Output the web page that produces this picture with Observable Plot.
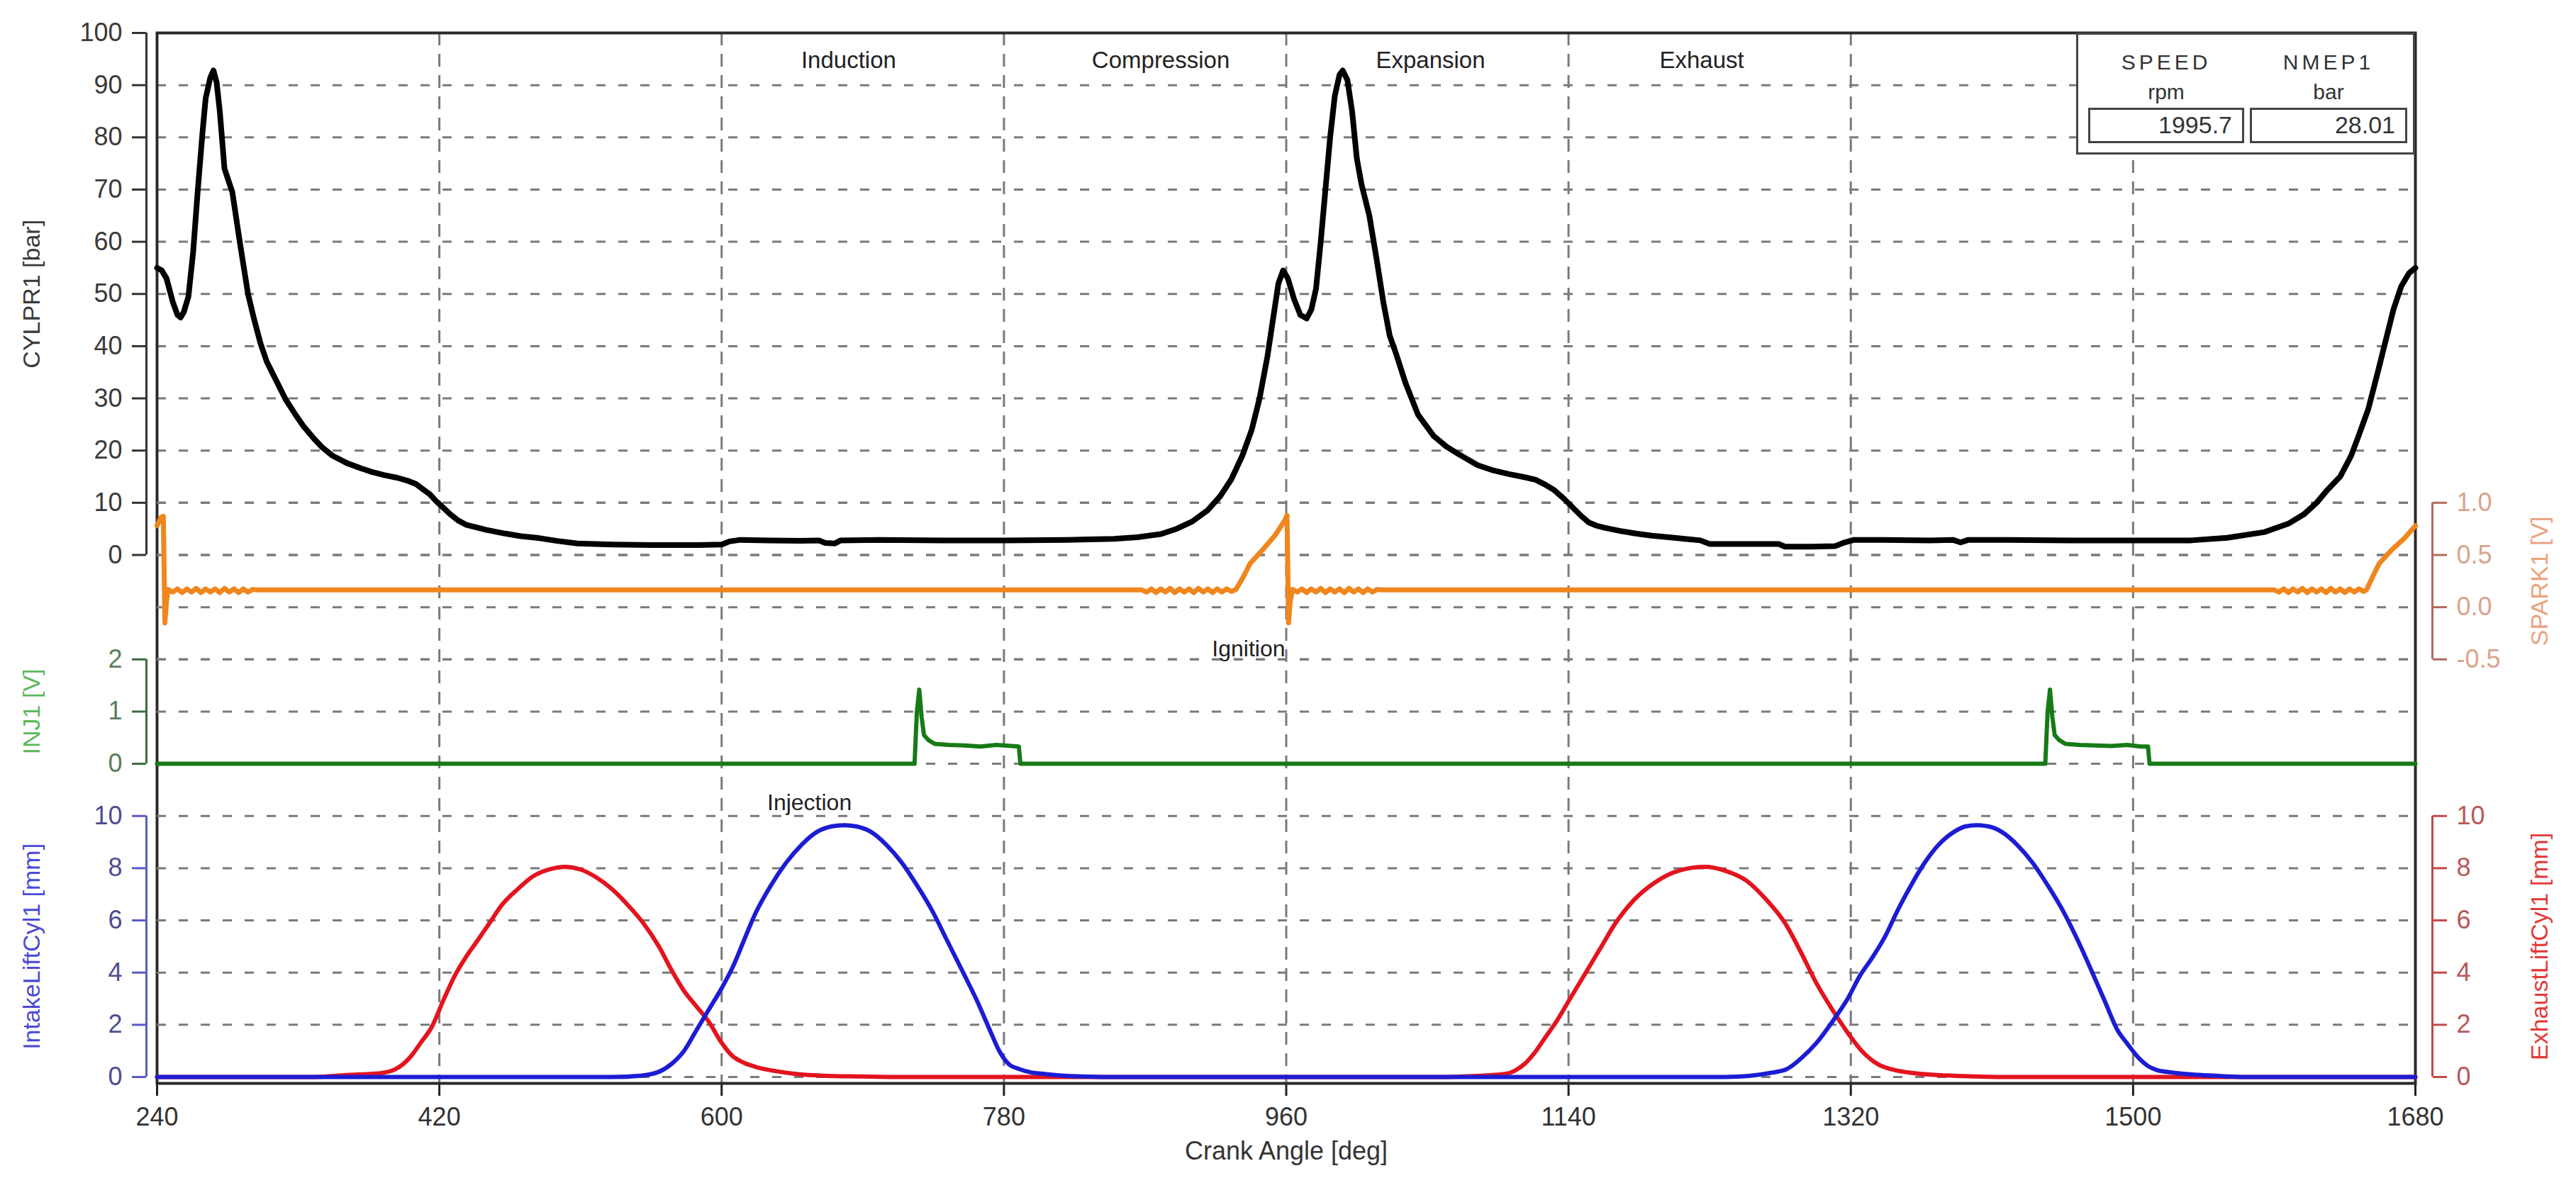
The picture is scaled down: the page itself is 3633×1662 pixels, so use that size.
<!DOCTYPE html>
<html>
<head>
<meta charset="utf-8">
<script src="https://cdn.jsdelivr.net/npm/d3@7"></script>
<script src="https://cdn.jsdelivr.net/npm/@observablehq/plot@0.6"></script>
<style>
  html, body { margin: 0; padding: 0; background: #fff; }
  #chart { position: relative; width: 3633px; height: 1662px; overflow: hidden; background: #fff;
           font-family: "Liberation Sans", Arial, sans-serif; }
  #chart svg { position: absolute; left: 0; top: 0; }
  .info { position: absolute; box-sizing: border-box; background: #fff; border: 3px solid #444; color: #333; }
  .info .lab { position: absolute; text-align: center; font-size: 30px; line-height: 30px; }
  .info .name { letter-spacing: 5px; }
  .info .val { position: absolute; box-sizing: border-box; border: 3px solid #444; text-align: right;
               font-size: 34px; line-height: 42px; padding-right: 14px; }
</style>
</head>
<body>
<div id="chart"></div>
<script>
// ---------------- data ----------------
const crankTicks = [240, 420, 600, 780, 960, 1140, 1320, 1500, 1680];
const pressureTicks = [0, 10, 20, 30, 40, 50, 60, 70, 80, 90, 100];
const sparkTicks = [-0.5, 0.0, 0.5, 1.0];
const injTicks = [0, 1, 2];
const liftTicks = [0, 2, 4, 6, 8, 10];

const phaseNames = ["Induction", "Compression", "Expansion", "Exhaust"];
const phaseDeg = [681, 880, 1052, 1225];

const noteNames = ["Ignition", "Injection"];
const noteDeg = [936, 656];
const noteValue = [2.2, 10.5]; // Ignition on INJ1 scale [V], Injection on lift scale [mm]

const infoNames = ["SPEED", "NMEP1"];
const infoUnits = ["rpm", "bar"];
const infoValues = ["1995.7", "28.01"];

// CYLPR1 [bar]
const pressureDeg = [240,243,246,250,253,255,257,260,263,266,269,271,274,276,278,280,283,288,293,298,302,306,310,315,322,328,333,340,345,352,361,370,377,385,393,400,405,410,414,418,422,427,432,437,442,450,462,472,482,495,508,530,556,585,600,605,612,630,650,662,666,672,676,700,740,780,820,850,865,880,890,900,910,918,925,932,938,943,948,952,955,958,961,965,969,973,976,979,982,985,988,991,994,996,999,1002,1005,1008,1013,1018,1022,1026,1030,1036,1044,1054,1062,1070,1082,1092,1102,1112,1119,1125,1131,1137,1143,1148,1153,1158,1163,1173,1183,1193,1204,1214,1224,1230,1255,1274,1278,1295,1310,1316,1322,1340,1370,1385,1390,1395,1420,1460,1500,1537,1560,1584,1599,1609,1617,1624,1632,1639,1644,1650,1656,1661,1666,1671,1676,1680];
const pressureBar = [55.0,54.5,53.0,48.5,46.0,45.5,46.5,49.5,58,70,81,87.5,91.5,92.8,90.5,85,74,69.5,59.5,50,45,40.5,37,34,29.8,27,24.8,22.3,20.7,19,17.6,16.6,15.9,15.3,14.8,14.2,13.6,12.5,11.6,10.3,9.2,7.8,6.6,5.8,5.4,4.8,4.1,3.6,3.3,2.7,2.2,2.0,1.9,1.9,2.0,2.6,2.9,2.8,2.7,2.8,2.3,2.2,2.8,2.9,2.8,2.8,2.9,3.1,3.4,4.0,5.0,6.4,8.6,11.3,14.5,19,24,30,38,46,52,54.5,53,49,46,45.3,47,51,60,70,80,88,92,92.8,91,85,76,71,65,56,48.3,42,38.6,33,26.9,22.8,20.8,19.3,17.2,16.2,15.5,14.9,14.4,13.5,12.4,10.8,9.0,7.5,6.2,5.6,5.2,4.6,4.1,3.7,3.4,3.1,2.8,2.1,2.1,2.1,1.6,1.6,1.7,2.4,2.9,2.9,2.8,2.9,2.4,2.9,2.9,2.8,2.8,2.8,3.3,4.4,6.0,7.8,10.0,12.5,15.0,19.0,23.0,28,35,41,47,51.5,54,55];

// SPARK1 [V]
const sparkDeg = [240,242.5,244,245,246,247,250,253,256,259,262,265,268,271,274,277,280,283,286,289,292,295,298,301,304,
  868,871,874,877,880,883,886,889,892,895,898,901,904,907,910,913,916,919,922,925,928,933,937,945,953,959,960.5,961.5,962.5,964,
  967,970,973,976,979,982,985,988,991,994,997,1000,1003,1006,1009,1012,1015,1018,1021,
  1590,1593,1596,1599,1602,1605,1608,1611,1614,1617,1620,1623,1626,1629,1632,1635,1638,1641,1644,1647,1649,1653,1657,1665,1673,1680];
const sparkV = [0.78,0.86,0.87,-0.15,0.05,0.17,0.145,0.175,0.14,0.175,0.145,0.18,0.14,0.175,0.145,0.175,0.14,0.18,0.145,0.175,0.14,0.175,0.145,0.17,0.165,
  0.165,0.145,0.175,0.14,0.175,0.145,0.18,0.14,0.175,0.145,0.175,0.14,0.18,0.145,0.175,0.14,0.175,0.145,0.175,0.15,0.17,0.30,0.42,0.55,0.69,0.83,0.88,-0.15,0.05,0.17,
  0.145,0.175,0.14,0.175,0.145,0.18,0.14,0.175,0.145,0.175,0.14,0.18,0.145,0.175,0.14,0.175,0.145,0.17,0.165,
  0.165,0.145,0.175,0.14,0.175,0.145,0.18,0.14,0.175,0.145,0.175,0.14,0.18,0.145,0.175,0.14,0.175,0.145,0.175,0.15,0.17,0.30,0.42,0.55,0.66,0.78];

// INJ1 [V]
const injDeg = [240,723,724.5,726,727.5,729,732,736,745,755,765,775,785,789.5,790.5,1444,1445.5,1447,1448.5,1450,1453,1457,1466,1476,1486,1496,1505,1509.5,1510.5,1680];
const injV = [0,0,1.0,1.42,0.9,0.55,0.45,0.38,0.36,0.35,0.33,0.36,0.34,0.33,0,0,1.0,1.42,0.9,0.55,0.45,0.38,0.36,0.35,0.34,0.36,0.33,0.33,0,0];

// IntakeLiftCyl1 [mm]
const intakeDeg = [240,530,548,560,568,576,584,592,600,607,614,621,631,641,651,661,670,678,686,695,705,715,725,734,744,754,763,771,777,783,790,797,805,815,830,845,
  1240,1255,1268,1279,1288,1298,1308,1318,1326,1334,1342,1350,1358,1367,1376,1386,1393,1400,1408,1416,1426,1436,1446,1455,1465,1474,1482,1490,1496,1504,1510,1515,1525,1542,1562,1570,1680];
const intakeMm = [0,0,0.05,0.2,0.5,1.0,1.8,2.6,3.4,4.2,5.2,6.2,7.3,8.2,8.9,9.4,9.6,9.65,9.6,9.4,8.9,8.2,7.3,6.4,5.2,4.0,2.9,1.8,1.0,0.5,0.3,0.18,0.12,0.06,0.02,0,
  0,0.04,0.15,0.3,0.7,1.3,2.1,3.0,3.9,4.6,5.4,6.4,7.3,8.2,8.9,9.4,9.6,9.65,9.6,9.4,8.9,8.2,7.3,6.4,5.2,4.0,2.9,1.8,1.3,0.7,0.4,0.27,0.17,0.08,0.02,0,0];

// ExhaustLiftCyl1 [mm]
const exhaustDeg = [240,340,354,370,383,392,397,402,408,415,423,430,437,444,452,460,470,480,490,500,510,520,530,540,550,560,568,576,584,592,599,607,614,621,635,650,665,690,710,
  1060,1077,1090,1100,1106,1112,1118,1125,1132,1141,1151,1160,1170,1182,1195,1210,1227,1240,1254,1266,1278,1288,1298,1308,1318,1327,1337,1347,1361,1380,1400,1420,1680];
const exhaustMm = [0,0,0.05,0.1,0.15,0.3,0.5,0.8,1.3,1.9,3.0,3.9,4.6,5.2,5.9,6.6,7.2,7.7,7.95,8.05,7.95,7.65,7.2,6.6,5.9,5.0,4.1,3.3,2.7,2.1,1.4,0.8,0.55,0.4,0.22,0.1,0.05,0.02,0,
  0,0.03,0.07,0.12,0.25,0.5,0.9,1.5,2.1,3.0,4.0,4.9,5.9,6.8,7.45,7.9,8.05,7.9,7.5,6.8,5.9,4.8,3.6,2.6,1.7,1.0,0.5,0.28,0.14,0.06,0.02,0,0];

// ---------------- layout ----------------
const W = 3633, H = 1662;
const M = {left: 221, right: 227, top: 46, bottom: 134};
const FONT = '"Liberation Sans", Arial, sans-serif';
const gridGap = 9;                         // px between lowest gridline and x-axis line
const bandTop = 100, bandBottom = -100;    // shared grid units (one grid pitch = 10)
const unitPx = (H - M.top - M.bottom - gridGap) / (bandTop - bandBottom);
const bandAxis = bandBottom - gridGap / unitPx;
// value -> shared grid unit: b = a*v + c
function yDomain(a, c) { return [(bandAxis - c) / a, (bandTop - c) / a]; }
const domPressure = yDomain(1, 0);
const domSpark = yDomain(20, -10);
const domInj = yDomain(10, -40);
const domLift = yDomain(5, -100);
const xDomain = [d3.min(crankTicks), d3.max(crankTicks)];

const zipRows = (xs, ys) => xs.map((x, i) => ({x, y: ys[i]}));

function makePlot(ydom, marks, {xAxis = false, yAxis = false} = {}) {
  return Plot.plot({
    width: W, height: H,
    marginLeft: M.left, marginRight: M.right, marginTop: M.top, marginBottom: M.bottom,
    x: {domain: xDomain, ...(xAxis ? {} : {axis: null})},
    y: {domain: ydom, ...(yAxis ? {} : {axis: null})},
    style: {background: "transparent", fontFamily: FONT, overflow: "visible"},
    marks
  });
}

const gridStyle = {stroke: "#7a7a7a", strokeOpacity: 1, strokeWidth: 3, strokeDasharray: "13,18"};

function yAxisMarks(ticks, side, {tick, label, title, titleColor, fmt = d => String(d)}) {
  const left = side === "left";
  const lo = d3.min(ticks), hi = d3.max(ticks), mid = (lo + hi) / 2;
  return [
    Plot.ruleX([left ? xDomain[0] : xDomain[1]], {y1: () => lo, y2: () => hi, dx: left ? -15 : 24, stroke: tick, strokeWidth: 3}),
    Plot.axisY(ticks, {anchor: side, tickSize: 20, dx: left ? -15 : 24, tickPadding: 14,
      stroke: tick, strokeWidth: 3, fill: label, fontSize: 36, tickFormat: fmt, label: null}),
    Plot.text([title], {text: d => d, frameAnchor: side, y: () => mid, dx: left ? -176 : 176, rotate: -90,
      fill: titleColor, fontSize: 34, textAnchor: "middle", lineAnchor: "middle"})
  ];
}

const chart = document.getElementById("chart");
const layers = [];

// ---- grid / axis layers ----
layers.push(makePlot(domPressure, [
  Plot.gridX(crankTicks.slice(1, -1), {stroke: "#7a7a7a", strokeOpacity: 1, strokeWidth: 3, strokeDasharray: "18,12"}),
  Plot.gridY(pressureTicks, gridStyle),
  ...yAxisMarks(pressureTicks, "left", {tick: "#333", label: "#3a3a3a", title: "CYLPR1 [bar]", titleColor: "#3a3a3a"}),
  Plot.axisX(crankTicks, {anchor: "bottom", tickSize: 18, tickPadding: 16, stroke: "#222", strokeWidth: 3,
    fill: "#333", fontSize: 36, tickFormat: d => String(d), label: null}),
  Plot.text(["Crank Angle [deg]"], {text: d => d, frameAnchor: "bottom", dy: 96, fill: "#333", fontSize: 36, lineAnchor: "middle"}),
  Plot.text(phaseNames, {text: d => d, x: (d, i) => phaseDeg[i], frameAnchor: "top", dy: 39, fill: "#222", fontSize: 33, lineAnchor: "middle"}),
  Plot.frame({stroke: "#2a2a2a", strokeWidth: 4})
], {xAxis: true, yAxis: true}));

layers.push(makePlot(domSpark, [
  Plot.gridY(sparkTicks, gridStyle),
  ...yAxisMarks(sparkTicks, "right", {tick: "#b06a5a", label: "#d9a48c", title: "SPARK1 [V]", titleColor: "#eba27e", fmt: d => d.toFixed(1)})
], {yAxis: true}));

layers.push(makePlot(domInj, [
  Plot.gridY(injTicks, gridStyle),
  ...yAxisMarks(injTicks, "left", {tick: "#3d6b3d", label: "#5b7d5b", title: "INJ1 [V]", titleColor: "#5cb85c"}),
  Plot.text([noteNames[0]], {text: d => d, x: () => noteDeg[0], y: () => noteValue[0], fill: "#222", fontSize: 32, lineAnchor: "middle"})
], {yAxis: true}));

layers.push(makePlot(domLift, [
  Plot.gridY(liftTicks, gridStyle),
  ...yAxisMarks(liftTicks, "left", {tick: "#5a5ac8", label: "#4d4d8f", title: "IntakeLiftCyl1 [mm]", titleColor: "#4a4ad6"}),
  Plot.text([noteNames[1]], {text: d => d, x: () => noteDeg[1], y: () => noteValue[1], fill: "#222", fontSize: 32, lineAnchor: "middle"})
], {yAxis: true}));

layers.push(makePlot(domLift, [
  ...yAxisMarks(liftTicks, "right", {tick: "#c44848", label: "#b85858", title: "ExhaustLiftCyl1 [mm]", titleColor: "#e23a3a"})
], {yAxis: true}));

// ---- data line layers ----
layers.push(makePlot(domSpark, [
  Plot.line(zipRows(sparkDeg, sparkV), {x: "x", y: "y", stroke: "#f0861e", strokeWidth: 7, strokeLinejoin: "round"})
]));
layers.push(makePlot(domInj, [
  Plot.line(zipRows(injDeg, injV), {x: "x", y: "y", stroke: "#167a16", strokeWidth: 6, strokeLinejoin: "round"})
]));
layers.push(makePlot(domLift, [
  Plot.line(zipRows(exhaustDeg, exhaustMm), {x: "x", y: "y", stroke: "#e3141e", strokeWidth: 6, curve: "monotone-x"})
]));
layers.push(makePlot(domLift, [
  Plot.line(zipRows(intakeDeg, intakeMm), {x: "x", y: "y", stroke: "#1c1cd4", strokeWidth: 6, curve: "monotone-x"})
]));
layers.push(makePlot(domPressure, [
  Plot.line(zipRows(pressureDeg, pressureBar), {x: "x", y: "y", stroke: "#000", strokeWidth: 8, strokeLinejoin: "round"})
]));

layers.forEach(svg => chart.appendChild(svg));

// ---- info box (top right, inside the frame) ----
const box = document.createElement("div");
box.className = "info";
Object.assign(box.style, {left: "2928px", top: "46px", width: "478px", height: "172px"});
const colLeft = [14, 242], colWidth = [220, 222];
infoNames.forEach((name, i) => {
  const n = document.createElement("div");
  n.className = "lab name";
  Object.assign(n.style, {left: colLeft[i] + "px", width: colWidth[i] + "px", top: "24px"});
  n.textContent = name;
  const u = document.createElement("div");
  u.className = "lab";
  Object.assign(u.style, {left: colLeft[i] + "px", width: colWidth[i] + "px", top: "66px"});
  u.textContent = infoUnits[i];
  const v = document.createElement("div");
  v.className = "val";
  Object.assign(v.style, {left: colLeft[i] + "px", width: colWidth[i] + "px", top: "103px", height: "50px"});
  v.textContent = infoValues[i];
  box.append(n, u, v);
});
chart.appendChild(box);
</script>
</body>
</html>
